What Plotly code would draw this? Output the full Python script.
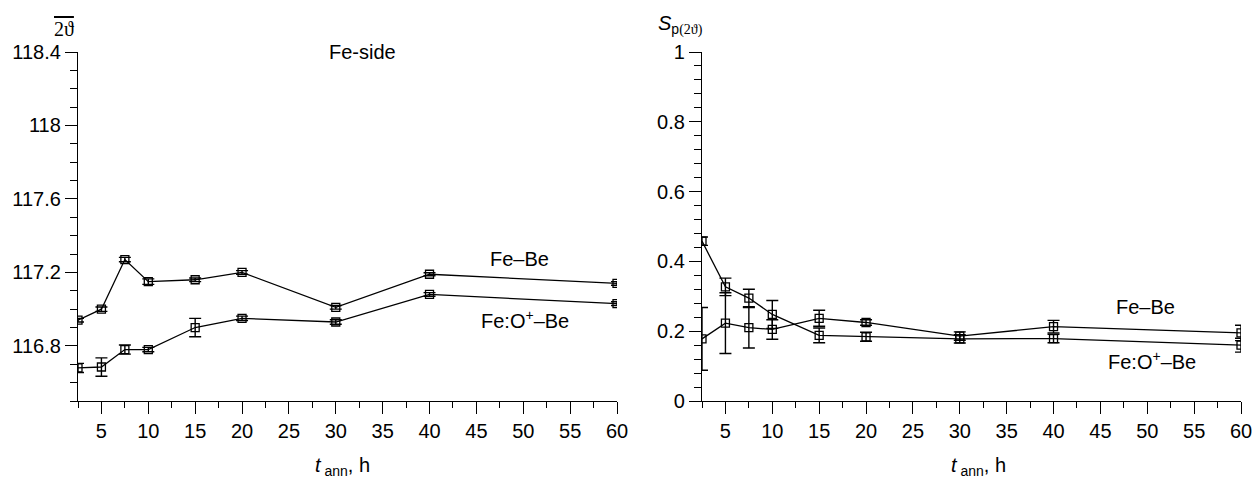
import plotly.graph_objects as go

# ---- data ----
t_ann = [2.5, 5, 7.5, 10, 15, 20, 30, 40, 60]

left_febe = [116.94, 117.0, 117.27, 117.15, 117.16, 117.2, 117.01, 117.19, 117.14]
left_febe_err = [0.01, 0.012, 0.012, 0.015, 0.01, 0.01, 0.01, 0.008, 0.01]
left_feobe = [116.68, 116.685, 116.78, 116.78, 116.9, 116.95, 116.93, 117.08, 117.03]
left_feobe_err = [0.025, 0.05, 0.025, 0.012, 0.05, 0.012, 0.012, 0.01, 0.01]

right_febe = [0.178, 0.223, 0.21, 0.205, 0.237, 0.225, 0.186, 0.213, 0.195]
right_febe_err = [0.09, 0.087, 0.058, 0.028, 0.023, 0.008, 0.012, 0.018, 0.022]
right_feobe = [0.458, 0.327, 0.295, 0.248, 0.188, 0.184, 0.178, 0.179, 0.16]
right_feobe_err = [0.012, 0.025, 0.025, 0.04, 0.021, 0.013, 0.012, 0.012, 0.02]

x_ticks = [5, 10, 15, 20, 25, 30, 35, 40, 45, 50, 55, 60]
left_yticks = [116.8, 117.2, 117.6, 118, 118.4]
left_yticklabels = ["116.8", "117.2", "117.6", "118", "118.4"]
right_yticks = [0, 0.2, 0.4, 0.6, 0.8, 1]
right_yticklabels = ["0", "0.2", "0.4", "0.6", "0.8", "1"]

FONT = "Liberation Sans, Arial, sans-serif"
SERIF = "Liberation Serif, Times New Roman, serif"

fig = go.Figure()

def add_series(x, y, err, xa, ya):
    fig.add_trace(go.Scatter(
        x=x, y=y, xaxis=xa, yaxis=ya, mode="lines+markers",
        line=dict(color="black", width=1.3),
        marker=dict(symbol="square-open", size=8, color="black", line=dict(width=1.3)),
        error_y=dict(type="data", array=err, visible=True, color="black",
                     thickness=1.4, width=6),
        showlegend=False, hoverinfo="x+y"))

add_series(t_ann, left_febe, left_febe_err, "x", "y")
add_series(t_ann, left_feobe, left_feobe_err, "x", "y")
add_series(t_ann, right_febe, right_febe_err, "x2", "y2")
add_series(t_ann, right_feobe, right_feobe_err, "x2", "y2")

xcommon = dict(range=[2.5, 60], tickvals=x_ticks, ticktext=[str(v) for v in x_ticks],
               showline=True, linecolor="black", linewidth=1.3, showgrid=False,
               zeroline=False, ticks="outside", ticklen=12, tickwidth=1.3,
               automargin=False, ticklabeloverflow="allow",
               tickcolor="black", tickfont=dict(family=FONT, size=20, color="black"),
               minor=dict(dtick=2.5, tick0=0, ticks="outside", ticklen=6,
                          tickwidth=1.3, tickcolor="black", showgrid=False))
ycommon = dict(showline=True, linecolor="black", linewidth=1.3, showgrid=False,
               zeroline=False, ticks="outside", ticklen=12, tickwidth=1.3,
               automargin=False, ticklabeloverflow="allow",
               tickcolor="black", tickfont=dict(family=FONT, size=20, color="black"))

# body margin is removed by the post script, so the figure fills the window
W, H = 1252, 481
L, T = 78, 52
R = W - 1241
B = H - 401
pw = W - L - R
ph = H - T - B
d1 = (617 - L) / pw
d2 = (702 - L) / pw

fig.update_layout(
    width=W, height=H,
    margin=dict(l=L, r=R, t=T, b=B, autoexpand=False),
    paper_bgcolor="white", plot_bgcolor="white",
    xaxis=dict(domain=[0, d1], anchor="y", **xcommon),
    xaxis2=dict(domain=[d2, 1], anchor="y2", **xcommon),
    yaxis=dict(domain=[0, 1], anchor="x", range=[116.5, 118.4],
               tickvals=left_yticks, ticktext=left_yticklabels,
               minor=dict(dtick=0.1, tick0=116.5, ticks="outside", ticklen=7,
                          tickwidth=1.3, tickcolor="black", showgrid=False),
               **ycommon),
    yaxis2=dict(domain=[0, 1], anchor="x2", range=[0, 1],
                tickvals=right_yticks, ticktext=right_yticklabels,
                minor=dict(dtick=0.04, tick0=0, ticks="outside", ticklen=7,
                           tickwidth=1.3, tickcolor="black", showgrid=False),
                **ycommon),
)

def px2paper(px, py):
    return (px - L) / pw, (H - B - py) / ph

def ann(text, px, py, size=20, family=FONT, xanchor="center"):
    x, y = px2paper(px, py)
    fig.add_annotation(text=text, x=x, y=y, xref="paper", yref="paper",
                       showarrow=False, xanchor=xanchor, yanchor="middle",
                       font=dict(family=family, size=size, color="black"))

ann("Fe-side", 362, 52)
ann("Fe\u2013Be", 519, 259)
ann("Fe:O<sup>+</sup>\u2013Be", 525, 319)
ann("Fe\u2013Be", 1145, 307)
ann("Fe:O<sup>+</sup>\u2013Be", 1152, 360)
ann("<i>t</i><sub> ann</sub>, h", 342, 466)
ann("<i>t</i><sub> ann</sub>, h", 978, 466)
ann("<span style='text-decoration:overline'>2\u03d1</span>", 64, 29, size=20, family=SERIF)
ann("<i>S</i><sub>p<span style='font-family:Liberation Serif'>(2\u03d1)</span></sub>", 680, 25, size=20)

fig.write_html(
    "out.html",
    config={"displayModeBar": False},
    post_script="document.body.style.margin='0';document.body.style.overflow='hidden';"
                "document.documentElement.style.overflow='hidden';",
)
